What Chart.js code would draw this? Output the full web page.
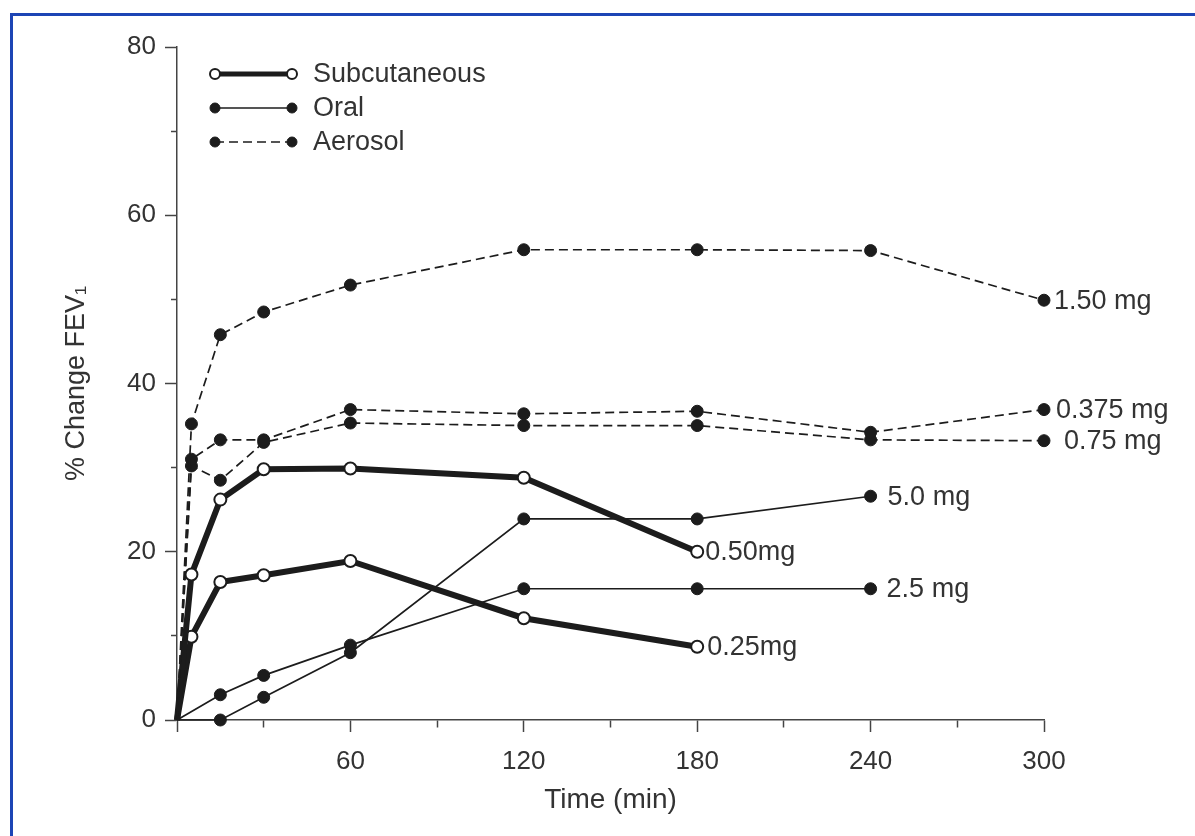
<!DOCTYPE html>
<html>
<head>
<meta charset="utf-8">
<script src="https://cdn.jsdelivr.net/npm/chart.js@4.4.0/dist/chart.umd.min.js"></script>
<style>
    html, body { margin: 0; padding: 0; background: #fff; }
    #wrap { position: relative; width: 1195px; height: 836px; }
    #frame {
        position: absolute; left: 10px; top: 13px; right: 0; bottom: 0;
        border-top: 3px solid #1d45b5; border-left: 3px solid #1d45b5;
        pointer-events: none;
    }
</style>
</head>
<body>
<div id="wrap">
    <canvas id="chart" width="1195" height="836"></canvas>
    <div id="frame"></div>
</div>
<script>
// Tempos (min)
const aerosolTimes = [0, 5, 15, 30, 60, 120, 180, 240, 300];
const subcutTimes = [0, 5, 15, 30, 60, 120, 180];
const oralTimes = [0, 15, 30, 60, 120, 180, 240];

// % change FEV1
const aerosol150 = [0, 35.2, 45.8, 48.5, 51.7, 55.9, 55.9, 55.8, 49.9];
const aerosol0375 = [0, 31.0, 33.3, 33.3, 36.9, 36.4, 36.7, 34.2, 36.9];
const aerosol075 = [0, 30.2, 28.5, 33.0, 35.3, 35.0, 35.0, 33.3, 33.2];
const subcut050 = [0, 17.3, 26.2, 29.8, 29.9, 28.8, 20.0];
const subcut025 = [0, 9.9, 16.4, 17.2, 18.9, 12.1, 8.7];
const oral50 = [0, 0, 2.7, 8.0, 23.9, 23.9, 26.6];
const oral25 = [0, 3.0, 5.3, 8.9, 15.6, 15.6, 15.6];

const doseLabels = ['1.50 mg', '0.375 mg', '0.75 mg', '0.50mg', '0.25mg', '5.0 mg', '2.5 mg'];
const legendNames = ['Subcutaneous', 'Oral', 'Aerosol'];

const INK = '#1c1c1c';
const TEXT = '#333333';
const FONT = "'Liberation Sans', Arial, sans-serif";

const toPoints = (times, vals) => times.map((t, i) => ({ x: t, y: vals[i] }));
const hideFirst = r => ctx => ctx.dataIndex === 0 ? 0 : r;

function aerosolSet(vals, label, dx) {
    return {
        label, data: toPoints(aerosolTimes, vals), labelDx: dx, clip: false,
        borderColor: INK, borderWidth: 1.7, borderDash: [9, 5],
        pointBackgroundColor: INK, pointBorderColor: INK,
        pointRadius: hideFirst(6), pointBorderWidth: 1
    };
}
function subcutSet(vals, label, dx) {
    return {
        label, data: toPoints(subcutTimes, vals), labelDx: dx, clip: false,
        borderColor: INK, borderWidth: 6,
        pointBackgroundColor: '#fff', pointBorderColor: INK,
        pointRadius: hideFirst(6), pointBorderWidth: 2
    };
}
function oralSet(vals, label, dx) {
    return {
        label, data: toPoints(oralTimes, vals), labelDx: dx, clip: false,
        borderColor: INK, borderWidth: 1.7,
        pointBackgroundColor: INK, pointBorderColor: INK,
        pointRadius: hideFirst(6), pointBorderWidth: 1
    };
}

// Rotulos de dose ao lado do ultimo ponto + legenda desenhada a mao
const annotate = {
    id: 'annotate',
    afterDatasetsDraw(chart) {
        const { ctx, chartArea } = chart;
        ctx.save();
        ctx.fillStyle = TEXT;
        ctx.font = '27px ' + FONT;
        ctx.textBaseline = 'middle';
        ctx.textAlign = 'left';
        chart.data.datasets.forEach((ds, i) => {
            const meta = chart.getDatasetMeta(i);
            const last = meta.data[meta.data.length - 1];
            ctx.fillText(ds.label, last.x + ds.labelDx, last.y + 1);
        });

        // legenda
        const x0 = chartArea.left + 38, x1 = chartArea.left + 115;
        const rows = [chartArea.top + 27, chartArea.top + 61, chartArea.top + 95];
        const styles = [
            { w: 5, dash: [], open: true },
            { w: 1.7, dash: [], open: false },
            { w: 1.7, dash: [9, 5], open: false }
        ];
        rows.forEach((y, i) => {
            const s = styles[i];
            ctx.strokeStyle = INK;
            ctx.lineWidth = s.w;
            ctx.setLineDash(s.dash);
            ctx.beginPath();
            ctx.moveTo(x0, y);
            ctx.lineTo(x1, y);
            ctx.stroke();
            ctx.setLineDash([]);
            [x0, x1].forEach(px => {
                ctx.beginPath();
                ctx.arc(px, y, 5, 0, Math.PI * 2);
                ctx.fillStyle = s.open ? '#fff' : INK;
                ctx.fill();
                ctx.lineWidth = s.open ? 2 : 1;
                ctx.stroke();
            });
            ctx.fillStyle = TEXT;
            ctx.font = '27px ' + FONT;
            ctx.fillText(legendNames[i], x1 + 21, y + 1);
        });
        ctx.restore();
    }
};

new Chart(document.getElementById('chart'), {
    type: 'line',
    data: {
        datasets: [
            aerosolSet(aerosol150, doseLabels[0], 10),
            aerosolSet(aerosol0375, doseLabels[1], 12),
            aerosolSet(aerosol075, doseLabels[2], 20),
            subcutSet(subcut050, doseLabels[3], 8),
            subcutSet(subcut025, doseLabels[4], 10),
            oralSet(oral50, doseLabels[5], 17),
            oralSet(oral25, doseLabels[6], 16)
        ]
    },
    options: {
        responsive: false,
        animation: false,
        layout: { padding: { top: 47, right: 151, bottom: 0, left: 0 } },
        plugins: { legend: { display: false }, tooltip: { enabled: false } },
        scales: {
            x: {
                type: 'linear', min: 0, max: 300,
                afterFit: scale => { scale.height = 116; },
                border: { color: '#444', width: 1.5 },
                grid: {
                    drawOnChartArea: false, drawTicks: true, tickLength: 12,
                    tickColor: '#444', tickWidth: 1.5,
                    tickBorderDash: ctx => ctx.tick && ctx.tick.value % 60 === 0 ? [] : [7, 100]
                },
                ticks: {
                    stepSize: 30, padding: 14, color: TEXT, maxRotation: 0,
                    font: { family: FONT, size: 26 },
                    callback: v => (v % 60 === 0 && v > 0) ? v : ''
                },
                title: {
                    display: true, text: 'Time (min)', color: TEXT,
                    font: { family: FONT, size: 28 }, padding: { top: 0, bottom: 19 }
                }
            },
            y: {
                min: 0, max: 80,
                afterFit: scale => { scale.width = 177; },
                border: { color: '#444', width: 1.5 },
                grid: {
                    drawOnChartArea: false, drawTicks: true, tickLength: 12,
                    tickColor: '#444', tickWidth: 1.5,
                    tickBorderDash: ctx => ctx.tick && ctx.tick.value % 20 === 0 ? [] : [0, 6, 6, 0]
                },
                ticks: {
                    stepSize: 10, padding: 9, color: TEXT,
                    font: { family: FONT, size: 26 },
                    callback: v => v % 20 === 0 ? v : ''
                },
                title: {
                    display: true, text: '% Change FEV\u2081', color: TEXT,
                    font: { family: FONT, size: 27 }, padding: { top: 60, bottom: 0 }
                }
            }
        }
    },
    plugins: [annotate]
});
</script>
</body>
</html>
